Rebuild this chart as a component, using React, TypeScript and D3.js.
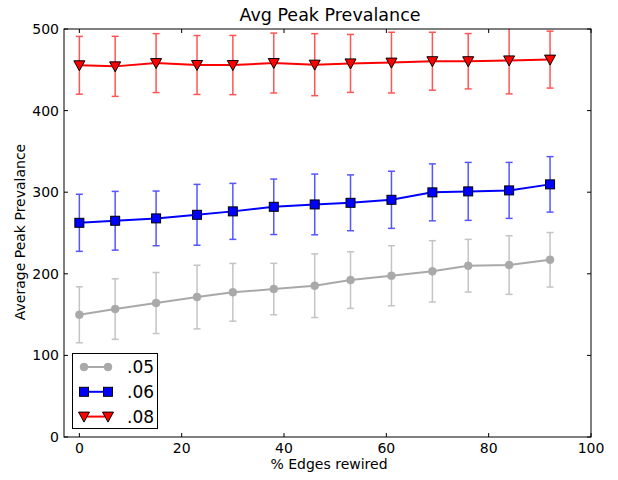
import React from "react";
import * as d3 from "d3";

const xs = [0, 7, 15, 23, 30, 38, 46, 53, 61, 69, 76, 84, 92];
const mean05 = [149.8, 156.8, 164.2, 171.5, 177.3, 181.3, 185.4, 192.3, 197.6, 203, 209.9, 210.7, 217.2];
const err05 = [34.3, 37.1, 37.4, 39, 35.4, 31.5, 39, 34.7, 36.8, 37.6, 32.3, 35.9, 33.4];
const mean06 = [262.5, 265, 267.9, 272.3, 276.5, 282.1, 285, 287, 290.7, 299.8, 301, 302.2, 309.6];
const err06 = [35, 36, 33.5, 37.3, 34.3, 34, 37.2, 34.2, 35, 34.9, 35.5, 34.3, 34];
const mean08 = [455.5, 454.2, 458.2, 455.9, 455.8, 458.3, 456.3, 457.8, 458.8, 460.5, 460.5, 461.5, 462.5];
const err08 = [35.4, 36.8, 36.1, 36.1, 36.3, 36.7, 38, 35.5, 37.2, 35.5, 33.9, 41, 34.9];
const seriesLabels = [".05", ".06", ".08"];
const xTicks = [0, 20, 40, 60, 80, 100];
const yTicks = [0, 100, 200, 300, 400, 500];

const W = 618, H = 480;
const L = 64, R = 591, T = 29, B = 437;
const FONT = "DejaVu Sans, sans-serif";

type S = { label: string; mean: number[]; err: number[]; line: string; bar: string; marker: string; edge: string };

export default function App() {
  const x = d3.scaleLinear().domain([-3, 100]).range([L, R]);
  const y = d3.scaleLinear().domain([0, 500]).range([B, T]);
  const series: S[] = [
    { label: seriesLabels[0], mean: mean05, err: err05, line: "#a9a9a9", bar: "#c4c4c4", marker: "circle", edge: "#a9a9a9" },
    { label: seriesLabels[1], mean: mean06, err: err06, line: "#0000ff", bar: "#5555ff", marker: "square", edge: "#000" },
    { label: seriesLabels[2], mean: mean08, err: err08, line: "#ff0000", bar: "#ff5555", marker: "tri", edge: "#000" },
  ];
  const lineGen = d3.line<[number, number]>().x(d => x(d[0])).y(d => y(d[1]));

  const marker = (s: S, cx: number, cy: number, key: string) => {
    if (s.marker === "circle") return <circle key={key} cx={cx} cy={cy} r={4} fill={s.line} stroke={s.edge} strokeWidth={0.5} />;
    if (s.marker === "square") return <rect key={key} x={cx - 4.5} y={cy - 4.5} width={9} height={9} fill={s.line} stroke={s.edge} strokeWidth={1} />;
    const p = d3.path();
    p.moveTo(cx - 5.5, cy - 4.5); p.lineTo(cx + 5.5, cy - 4.5); p.lineTo(cx, cy + 5.5); p.closePath();
    return <path key={key} d={p.toString()} fill={s.line} stroke={s.edge} strokeWidth={1} />;
  };

  return (
    <svg width={W} height={H} style={{ position: "fixed", left: 0, top: 0, background: "#fff" }} fontFamily={FONT}>
      <rect x={0} y={0} width={W} height={H} fill="#fff" />
      <defs>
        <clipPath id="plot"><rect x={L} y={T} width={R - L} height={B - T} /></clipPath>
      </defs>
      <g clipPath="url(#plot)">
        {series.map((s, si) => (
          <g key={si}>
            {xs.map((xv, i) => {
              const cx = x(xv);
              return (
                <g key={i} stroke={s.bar} strokeWidth={1.5}>
                  <line x1={cx} x2={cx} y1={y(s.mean[i] + s.err[i])} y2={y(s.mean[i] - s.err[i])} />
                  <line x1={cx - 3.5} x2={cx + 3.5} y1={y(s.mean[i] + s.err[i])} y2={y(s.mean[i] + s.err[i])} />
                  <line x1={cx - 3.5} x2={cx + 3.5} y1={y(s.mean[i] - s.err[i])} y2={y(s.mean[i] - s.err[i])} />
                </g>
              );
            })}
            <path d={lineGen(xs.map((xv, i) => [xv, s.mean[i]] as [number, number])) || ""} fill="none" stroke={s.line} strokeWidth={2} />
            {xs.map((xv, i) => marker(s, x(xv), y(s.mean[i]), `m${i}`))}
          </g>
        ))}
      </g>
      {/* ticks */}
      {xTicks.map(t => (
        <g key={`xt${t}`}>
          <line x1={x(t)} x2={x(t)} y1={B} y2={B - 4} stroke="#000" />
          <line x1={x(t)} x2={x(t)} y1={T} y2={T + 4} stroke="#000" />
          <text x={x(t)} y={453} fontSize={14} textAnchor="middle">{t}</text>
        </g>
      ))}
      {yTicks.map(t => (
        <g key={`yt${t}`}>
          <line x1={L} x2={L + 4} y1={y(t)} y2={y(t)} stroke="#000" />
          <line x1={R} x2={R - 4} y1={y(t)} y2={y(t)} stroke="#000" />
          <text x={L - 5} y={y(t) + 5} fontSize={14} textAnchor="end">{t}</text>
        </g>
      ))}
      <rect x={L} y={T} width={R - L} height={B - T} fill="none" stroke="#000" strokeWidth={1} />
      <text x={330} y={21} fontSize={17.5} textAnchor="middle">Avg Peak Prevalance</text>
      <text x={329} y={469} fontSize={14} textAnchor="middle">% Edges rewired</text>
      <text transform={`translate(25,232) rotate(-90)`} fontSize={14} textAnchor="middle">Average Peak Prevalance</text>
      {/* legend */}
      <g>
        <rect x={72.5} y={353.5} width={85} height={75} fill="#fff" stroke="#000" strokeWidth={1} />
        {series.map((s, i) => {
          const ly = 367 + i * 24.8;
          return (
            <g key={`lg${i}`}>
              <line x1={84} x2={108} y1={ly} y2={ly} stroke={s.line} strokeWidth={2} />
              {marker(s, 84, ly, "a")}
              {marker(s, 108, ly, "b")}
              <text x={127} y={ly + 6} fontSize={17}>{s.label}</text>
            </g>
          );
        })}
      </g>
    </svg>
  );
}
